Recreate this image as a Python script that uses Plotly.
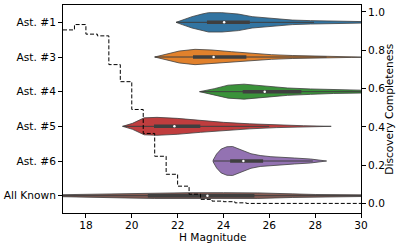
import plotly.graph_objects as go

# ---------------- data ----------------
categories = ["Ast. #1", "Ast. #3", "Ast. #4", "Ast. #5", "Ast. #6", "All Known"]
colors = ["#3274a1", "#e1812c", "#3a923a", "#c03d3e", "#9372b2", "#845b53"]

# violin profiles: H grid and half-width (fraction of category spacing)
ast1_h = [21.93, 22.2, 22.63, 23.06, 23.35, 23.93, 24.65, 25.25, 26.1, 27.0, 27.8, 28.7, 29.85, 30.5]
ast1_w = [0.0, 0.066, 0.164, 0.239, 0.279, 0.279, 0.239, 0.164, 0.106, 0.066, 0.049, 0.029, 0.020, 0.016]

ast3_h = [21.0, 21.46, 22.07, 22.76, 23.5, 24.36, 25.2, 26.1, 27.0, 28.1, 29.6, 30.5]
ast3_w = [0.0, 0.072, 0.172, 0.221, 0.201, 0.152, 0.106, 0.066, 0.043, 0.023, 0.012, 0.009]

ast4_h = [22.96, 23.3, 23.6, 24.2, 24.9, 25.9, 26.8, 27.8, 28.8, 30.0, 30.5]
ast4_w = [0.0, 0.043, 0.086, 0.187, 0.216, 0.158, 0.106, 0.078, 0.052, 0.037, 0.035]

ast5_h = [19.6, 20.03, 20.54, 21.1, 21.98, 23.0, 24.0, 25.15, 26.3, 27.5, 28.7]
ast5_w = [0.0, 0.086, 0.244, 0.259, 0.230, 0.172, 0.115, 0.072, 0.037, 0.017, 0.0]

ast6_h = [23.54, 23.7, 23.9, 24.15, 24.4, 24.7, 25.2, 25.6, 26.07, 27.1, 27.8, 28.5]
ast6_w = [0.014, 0.201, 0.345, 0.411, 0.417, 0.345, 0.210, 0.158, 0.124, 0.086, 0.057, 0.0]

all_h = [16.5, 17.0, 18.0, 19.7, 21.0, 22.5, 24.0, 25.5, 27.0, 28.0, 30.0, 30.5]
all_w = [0.023, 0.029, 0.043, 0.066, 0.080, 0.086, 0.086, 0.080, 0.052, 0.034, 0.023, 0.020]

profiles_h = [ast1_h, ast3_h, ast4_h, ast5_h, ast6_h, all_h]
profiles_w = [ast1_w, ast3_w, ast4_w, ast5_w, ast6_w, all_w]

# inner box stats: q1, median, q3, whisker low, whisker high
q1 = [23.28, 22.67, 24.84, 20.97, 24.29, 20.7]
med = [24.03, 23.57, 25.8, 21.86, 24.87, 23.3]
q3 = [25.15, 25.0, 27.4, 22.99, 25.73, 25.35]
wlo = [21.93, 21.0, 22.96, 19.6, 23.54, 16.5]
whi = [27.95, 28.5, 30.5, 26.0, 27.9, 30.5]

# discovery completeness (step curve)
comp_h = [17.0, 17.5, 18.0, 18.5, 19.0, 19.5, 20.0, 20.5, 21.0, 21.5, 22.0,
          22.5, 23.0, 23.5, 24.0, 24.5, 25.0, 30.0]
comp_v = [0.906, 0.934, 0.884, 0.875, 0.725, 0.636, 0.491, 0.366, 0.247, 0.153,
          0.091, 0.049, 0.022, 0.013, 0.010, 0.004, 0.001, 0.001]

x_ticks = [18, 20, 22, 24, 26, 28, 30]
y2_ticks = [0.0, 0.2, 0.4, 0.6, 0.8, 1.0]

# ---------------- figure ----------------
FONT = "DejaVu Sans"
FS = 10.6
EDGE = "#3f3f3f"

fig = go.Figure()

for i, cat in enumerate(categories):
    h = profiles_h[i]
    w = profiles_w[i]
    xs = list(h) + list(h[::-1])
    ys = [i - v for v in w] + [i + v for v in w[::-1]]
    fig.add_trace(go.Scatter(
        x=xs, y=ys, mode="lines", fill="toself", fillcolor=colors[i],
        line=dict(color=EDGE, width=0.8), hoverinfo="skip", showlegend=False,
    ))
    # whisker
    fig.add_trace(go.Scatter(
        x=[wlo[i], whi[i]], y=[i, i], mode="lines",
        line=dict(color=EDGE, width=1), hoverinfo="skip", showlegend=False,
    ))
    # box
    fig.add_trace(go.Scatter(
        x=[q1[i], q3[i]], y=[i, i], mode="lines",
        line=dict(color=EDGE, width=3.5), hoverinfo="skip", showlegend=False,
    ))
    # median
    fig.add_trace(go.Scatter(
        x=[med[i]], y=[i], mode="markers",
        marker=dict(color="white", size=2.5), hoverinfo="skip", showlegend=False,
    ))

fig.add_trace(go.Scatter(
    x=comp_h, y=comp_v, mode="lines", line_shape="hv",
    line=dict(color="black", width=1, dash="4px,2px"),
    yaxis="y2", hoverinfo="skip", showlegend=False,
))

fig.update_layout(
    width=399, height=244,
    margin=dict(l=60, r=38, t=4, b=31),
    paper_bgcolor="white", plot_bgcolor="white",
    font=dict(family=FONT, size=FS, color="black"),
    hovermode=False,
    xaxis=dict(
        range=[17, 30], tickvals=x_ticks, ticks="outside", ticklen=4,
        ticklabelstandoff=-2,
        tickcolor="black", showline=True, linecolor="black", linewidth=1,
        mirror=True, showgrid=False, zeroline=False,
    ),
    yaxis=dict(
        range=[5.5, -0.5], tickvals=list(range(len(categories))), ticktext=categories,
        ticks="outside", ticklen=4, tickcolor="black", showline=True,
        linecolor="black", linewidth=1, mirror=True, showgrid=False, zeroline=False,
    ),
    yaxis2=dict(
        overlaying="y", side="right", range=[-0.049, 1.036], tickvals=y2_ticks,
        tickformat=".1f", ticks="outside", ticklen=4, tickcolor="black",
        showline=True, linecolor="black", linewidth=1, showgrid=False, zeroline=False,
    ),
    annotations=[
        dict(text="H Magnitude", xref="paper", yref="paper", x=0.5, y=-0.117,
             xanchor="center", yanchor="middle", showarrow=False,
             font=dict(family=FONT, size=FS, color="black")),
        dict(text="Discovery Completeness", xref="paper", yref="paper", x=1.093, y=0.5,
             xanchor="center", yanchor="middle", textangle=-90, showarrow=False,
             font=dict(family=FONT, size=FS, color="black")),
    ],
)

fig.write_html(
    "out.html",
    config={"displayModeBar": False, "staticPlot": True},
    post_script="document.body.style.margin='0';document.body.style.overflow='hidden';",
)
